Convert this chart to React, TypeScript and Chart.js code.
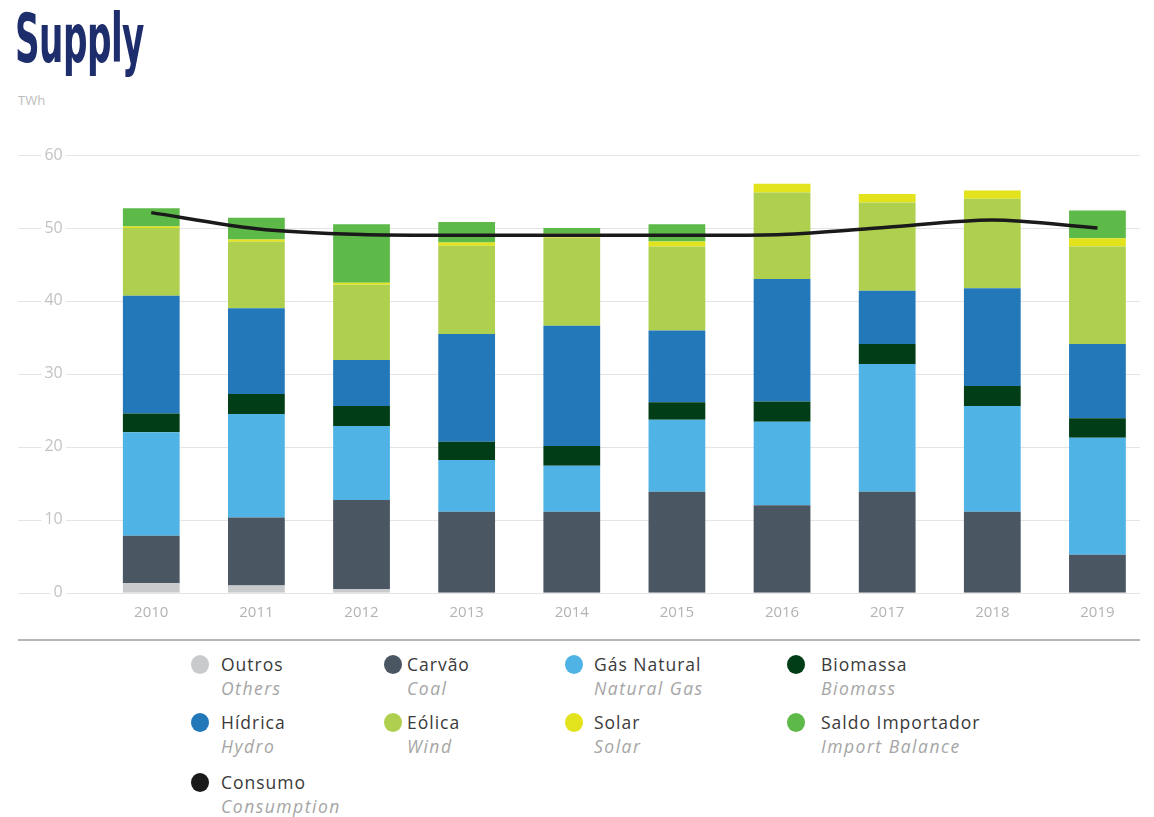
import React, { useEffect, useRef } from "react";
import { Chart, registerables } from "chart.js";

Chart.register(...registerables);

const years = ["2010", "2011", "2012", "2013", "2014", "2015", "2016", "2017", "2018", "2019"];
const others = [1.3, 1.0, 0.5, 0, 0, 0, 0, 0, 0, 0];
const coal = [6.5, 9.3, 12.2, 11.1, 11.1, 13.85, 12.0, 13.85, 11.1, 5.2];
const gas = [14.2, 14.2, 10.15, 7.1, 6.3, 9.85, 11.45, 17.5, 14.5, 16.05];
const biomass = [2.55, 2.75, 2.75, 2.5, 2.7, 2.4, 2.75, 2.75, 2.75, 2.65];
const hydro = [16.15, 11.75, 6.3, 14.75, 16.5, 9.85, 16.8, 7.3, 13.4, 10.2];
const wind = [9.3, 9.1, 10.3, 12.1, 12.1, 11.5, 11.87, 12.1, 12.25, 13.35];
const solar = [0.2, 0.3, 0.3, 0.45, 0.5, 0.7, 1.18, 1.15, 1.15, 1.15];
const importBalance = [2.5, 3.0, 8.0, 2.8, 0.8, 2.35, 0, 0, 0, 3.8];
const consumption = [52.1, 49.9, 49.1, 49.0, 49.0, 49.0, 49.1, 50.1, 51.1, 50.0];

const yTicks = [0, 10, 20, 30, 40, 50, 60];

const colors = {
  others: "#c9cacc",
  coal: "#4a5662",
  gas: "#4fb3e6",
  biomass: "#013e17",
  hydro: "#2378b9",
  wind: "#afd04f",
  solar: "#e2e31c",
  import: "#5db948",
  consumption: "#1a1a1a",
};

const legendItems = [
  { pt: "Outros", en: "Others", color: colors.others },
  { pt: "Carvão", en: "Coal", color: colors.coal },
  { pt: "Gás Natural", en: "Natural Gas", color: colors.gas },
  { pt: "Biomassa", en: "Biomass", color: colors.biomass },
  { pt: "Hídrica", en: "Hydro", color: colors.hydro },
  { pt: "Eólica", en: "Wind", color: colors.wind },
  { pt: "Solar", en: "Solar", color: colors.solar },
  { pt: "Saldo Importador", en: "Import Balance", color: colors.import },
  { pt: "Consumo", en: "Consumption", color: colors.consumption },
];

const colCircle = [200, 393, 574, 796];
const colText = [221, 407, 594, 821];
const rowY = [664, 722, 782];

const FONT = "'Open Sans', 'DejaVu Sans', sans-serif";

export default function App() {
  const canvasRef = useRef<HTMLCanvasElement | null>(null);

  useEffect(() => {
    const canvas = canvasRef.current;
    if (!canvas) return;

    const gridPlugin = {
      id: "customGrid",
      beforeDraw(chart: any) {
        const { ctx, scales } = chart;
        const y = scales.y;
        ctx.save();
        ctx.strokeStyle = "#e4e4e4";
        ctx.lineWidth = 1;
        yTicks.forEach((t) => {
          const py = Math.round(y.getPixelForValue(t)) + 0.5;
          ctx.beginPath();
          ctx.moveTo(18, py);
          ctx.lineTo(1140, py);
          ctx.stroke();
        });
        ctx.strokeStyle = "#9c9c9c";
        ctx.lineWidth = 1.5;
        ctx.beginPath();
        ctx.moveTo(18, 640);
        ctx.lineTo(1140, 640);
        ctx.stroke();
        ctx.restore();
      },
    };

    const mk = (label: string, data: number[], color: string) => ({
      type: "bar" as const,
      label,
      data,
      backgroundColor: color,
      borderWidth: 0,
      stack: "supply",
      order: 1,
      barPercentage: 0.54,
      categoryPercentage: 1,
    });

    const chart = new Chart(canvas, {
      type: "bar",
      data: {
        labels: years,
        datasets: [
          {
            type: "line" as const,
            label: "Consumo",
            data: consumption,
            borderColor: colors.consumption,
            borderWidth: 3.5,
            pointRadius: 0,
            tension: 0.3,
            fill: false,
            stack: "line",
            order: 0,
          } as any,
          mk("Outros", others, colors.others),
          mk("Carvão", coal, colors.coal),
          mk("Gás Natural", gas, colors.gas),
          mk("Biomassa", biomass, colors.biomass),
          mk("Hídrica", hydro, colors.hydro),
          mk("Eólica", wind, colors.wind),
          mk("Solar", solar, colors.solar),
          mk("Saldo Importador", importBalance, colors.import),
        ],
      },
      options: {
        responsive: false,
        animation: false,
        maintainAspectRatio: false,
        layout: { padding: { top: 155, right: 4, left: 0, bottom: 0 } },
        plugins: { legend: { display: false }, tooltip: { enabled: false } },
        scales: {
          x: {
            stacked: true,
            grid: { display: false },
            border: { display: false },
            ticks: {
              color: "#b3b3b3",
              font: { family: FONT, size: 15 },
              padding: 3,
            },
            afterFit: (s: any) => {
              s.height = 57.3;
            },
          },
          y: {
            stacked: true,
            min: 0,
            max: 60,
            grid: { display: false },
            border: { display: false },
            ticks: {
              stepSize: 10,
              color: "#c2c2c2",
              font: { family: FONT, size: 16 },
              padding: 28,
              showLabelBackdrop: true,
              backdropColor: "#ffffff",
              backdropPadding: { top: 0, bottom: 0, left: 3, right: 3 },
            } as any,
            afterFit: (s: any) => {
              s.width = 98.7;
            },
          },
        },
      },
      plugins: [gridPlugin],
    } as any);

    return () => chart.destroy();
  }, []);

  return (
    <div style={{ position: "absolute", left: 0, top: 0, width: 1154, height: 817, background: "#fff", overflow: "hidden" }}>
      <div
        style={{
          position: "absolute",
          left: 15,
          top: -1,
          fontFamily: "'Liberation Sans Narrow', 'DejaVu Sans Condensed', sans-serif",
          fontWeight: 700,
          fontSize: 68,
          color: "#1e2d6c",
          transform: "scaleX(0.56)",
          transformOrigin: "left top",
          lineHeight: "80px",
          letterSpacing: -1,
        }}
      >
        Supply
      </div>
      <div
        style={{
          position: "absolute",
          left: 18,
          top: 91,
          fontFamily: FONT,
          fontSize: 13,
          color: "#bdbdbd",
        }}
      >
        TWh
      </div>
      <canvas ref={canvasRef} width={1154} height={650} style={{ position: "absolute", left: 0, top: 0 }} />
      {legendItems.map((it, i) => {
        const col = i % 4;
        const row = Math.floor(i / 4);
        const cy = rowY[row];
        return (
          <React.Fragment key={it.pt}>
            <div
              style={{
                position: "absolute",
                left: colCircle[col] - 9,
                top: cy - 9,
                width: 18,
                height: 19,
                borderRadius: "50%",
                background: it.color,
              }}
            />
            <div
              style={{
                position: "absolute",
                left: colText[col],
                top: cy - 12,
                fontFamily: FONT,
                fontSize: 17.5,
                letterSpacing: 1.0,
                lineHeight: "24px",
                color: "#3a3a3a",
                whiteSpace: "nowrap",
              }}
            >
              {it.pt}
            </div>
            <div
              style={{
                position: "absolute",
                left: colText[col],
                top: cy + 12,
                fontFamily: FONT,
                fontSize: 17.5,
                fontStyle: "italic",
                letterSpacing: 1.5,
                lineHeight: "24px",
                color: "#a5a5a5",
                whiteSpace: "nowrap",
              }}
            >
              {it.en}
            </div>
          </React.Fragment>
        );
      })}
    </div>
  );
}
